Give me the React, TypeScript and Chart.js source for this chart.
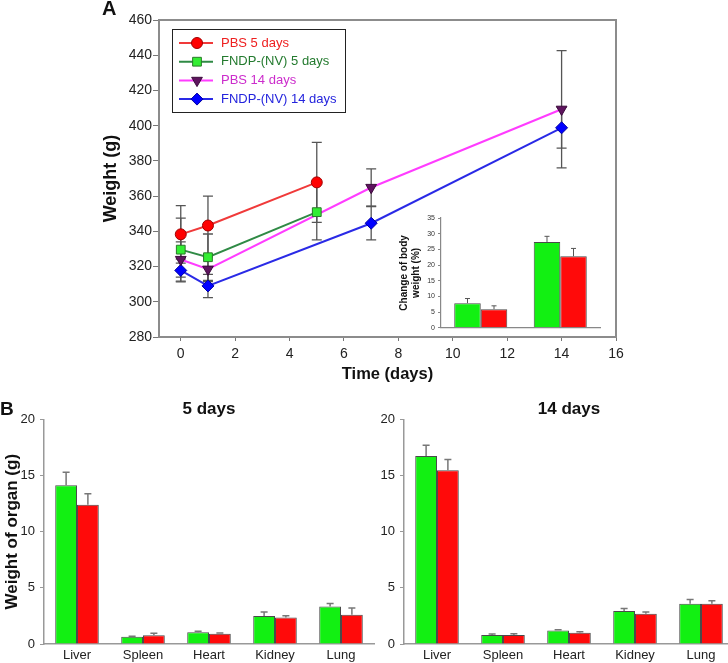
import React, { useEffect, useRef } from 'react';
import { Chart, registerables } from 'chart.js';
import { drawPoint } from 'chart.js/helpers';

Chart.register(...registerables);

const FONT = "'Liberation Sans', Arial, Helvetica, sans-serif";
Chart.defaults.font.family = FONT;
Chart.defaults.color = '#222';

// ---------- Panel A: body weight over time ----------
const xTickValues = [0, 2, 4, 6, 8, 10, 12, 14, 16];
const yTickValues = [280, 300, 320, 340, 360, 380, 400, 420, 440, 460];
const seriesLabels = ['PBS 5 days', 'FNDP-(NV) 5 days', 'PBS 14 days', 'FNDP-(NV) 14 days'];

const days5 = [0, 1, 5];
const pbs5Weight = [338.3, 343.3, 367.8];
const pbs5Err = [16.3, 16.7, 22.7];
const fndp5Weight = [329.6, 325.3, 350.9];
const fndp5Err = [17.9, 13.2, 15.8];

const days14 = [0, 1, 7, 14];
const pbs14Weight = [324.0, 318.5, 364.9, 409.3];
const pbs14Err = [10.0, 7.0, 10.6, 33.3];
const fndp14Weight = [317.8, 309.0, 344.6, 398.8];
const fndp14Err = [6.5, 6.6, 9.5, 11.6];

// ---------- Inset: change of body weight ----------
const insetCategories = ['5 days', '14 days'];
const insetTicks = [0, 5, 10, 15, 20, 25, 30, 35];
const insetFndpChange = [7.85, 27.36];
const insetFndpErr = [1.48, 1.8];
const insetPbsChange = [5.94, 22.8];
const insetPbsErr = [1.06, 2.5];

// ---------- Panel B: organ weights ----------
const organs = ['Liver', 'Spleen', 'Heart', 'Kidney', 'Lung'];
const organTicks = [0, 5, 10, 15, 20];
const organ5Fndp = [14.13, 0.65, 1.04, 2.49, 3.35];
const organ5FndpErr = [1.16, 0.05, 0.09, 0.35, 0.26];
const organ5Pbs = [12.41, 0.77, 0.92, 2.37, 2.61];
const organ5PbsErr = [0.98, 0.18, 0.06, 0.15, 0.59];
const organ14Fndp = [16.74, 0.8, 1.21, 2.93, 3.59];
const organ14FndpErr = [0.95, 0.09, 0.06, 0.24, 0.38];
const organ14Pbs = [15.47, 0.8, 1.0, 2.7, 3.59];
const organ14PbsErr = [0.97, 0.12, 0.1, 0.14, 0.26];

const GREEN = '#12f012';
const RED = '#ff0a0a';
const BAR_BORDER = '#4a4a4a';

// ---------- plugins ----------
function drawErrors(chart: any, opts: any) {
  const { ctx } = chart;
  chart.data.datasets.forEach((ds: any, di: number) => {
    const errs = ds.errors;
    if (!errs) return;
    const meta = chart.getDatasetMeta(di);
    const yScale = chart.scales[meta.yAxisID];
    ctx.save();
    ctx.strokeStyle = opts.color;
    ctx.lineWidth = opts.width;
    meta.data.forEach((el: any, i: number) => {
      const raw = ds.data[i];
      const v = typeof raw === 'number' ? raw : raw.y;
      const e = errs[i];
      const x = el.x;
      const yTop = yScale.getPixelForValue(v + e);
      const yBot = yScale.getPixelForValue(opts.upOnly ? v : v - e);
      ctx.beginPath();
      ctx.moveTo(x, yTop);
      ctx.lineTo(x, yBot);
      ctx.moveTo(x - opts.cap, yTop);
      ctx.lineTo(x + opts.cap, yTop);
      if (!opts.upOnly) {
        ctx.moveTo(x - opts.cap, yBot);
        ctx.lineTo(x + opts.cap, yBot);
      }
      ctx.stroke();
    });
    ctx.restore();
  });
}

const errorBarPlugin = {
  id: 'errorBars',
  beforeDatasetsDraw(chart: any, _a: any, opts: any) {
    if (!opts.after) drawErrors(chart, opts);
  },
  afterDatasetsDraw(chart: any, _a: any, opts: any) {
    if (opts.after) drawErrors(chart, opts);
  },
};

const framePlugin = {
  id: 'frame',
  beforeDatasetsDraw(chart: any, _a: any, opts: any) {
    const { ctx, chartArea } = chart;
    ctx.save();
    ctx.strokeStyle = opts.color;
    ctx.lineWidth = opts.width;
    ctx.strokeRect(chartArea.left, chartArea.top, chartArea.right - chartArea.left, chartArea.bottom - chartArea.top);
    ctx.restore();
  },
};

const boxLegendPlugin = {
  id: 'boxLegend',
  afterDraw(chart: any, _a: any, opts: any) {
    const { ctx, chartArea } = chart;
    const x0 = chartArea.left + opts.offsetX;
    const y0 = chartArea.top + opts.offsetY;
    ctx.save();
    ctx.fillStyle = '#fff';
    ctx.fillRect(x0, y0, opts.width, opts.height);
    ctx.strokeStyle = '#222';
    ctx.lineWidth = 1;
    ctx.strokeRect(x0 + 0.5, y0 + 0.5, opts.width, opts.height);
    chart.data.datasets.forEach((ds: any, i: number) => {
      const cy = y0 + opts.firstRow + i * opts.rowGap;
      ctx.strokeStyle = ds.borderColor;
      ctx.lineWidth = ds.borderWidth;
      ctx.beginPath();
      ctx.moveTo(x0 + opts.lineStart, cy);
      ctx.lineTo(x0 + opts.lineEnd, cy);
      ctx.stroke();
      ctx.fillStyle = ds.pointBackgroundColor;
      ctx.strokeStyle = ds.pointBorderColor;
      ctx.lineWidth = ds.pointBorderWidth;
      drawPoint(ctx, {
        pointStyle: ds.pointStyle,
        rotation: ds.pointRotation || 0,
        radius: ds.pointRadius,
        borderWidth: ds.pointBorderWidth,
      } as any, x0 + opts.markerX, cy);
      ctx.fillStyle = opts.textColors[i];
      ctx.font = `${opts.fontSize}px ${FONT}`;
      ctx.textBaseline = 'middle';
      ctx.textAlign = 'left';
      ctx.fillText(ds.label, x0 + opts.textX, cy);
    });
    ctx.restore();
  },
};

function lineDs(label: string, xs: number[], ys: number[], errs: number[], color: string,
  fill: string, border: string, style: string, radius: number, rotation = 0) {
  return {
    label,
    data: xs.map((x, i) => ({ x, y: ys[i] })),
    errors: errs,
    borderColor: color,
    borderWidth: 2,
    pointStyle: style,
    pointRadius: radius,
    pointRotation: rotation,
    pointBackgroundColor: fill,
    pointBorderColor: border,
    pointBorderWidth: 1,
    tension: 0,
    fill: false,
  };
}

const panelAConfig: any = {
  type: 'line',
  data: {
    datasets: [
      lineDs(seriesLabels[0], days5, pbs5Weight, pbs5Err, '#f03a3a', '#ff0000', '#a00000', 'circle', 5.5),
      lineDs(seriesLabels[1], days5, fndp5Weight, fndp5Err, '#2f8a45', '#33ee33', '#2a7a2a', 'rect', 6.2),
      lineDs(seriesLabels[2], days14, pbs14Weight, pbs14Err, '#ff3cff', '#5e145e', '#3c0a3c', 'triangle', 6.2, 180),
      lineDs(seriesLabels[3], days14, fndp14Weight, fndp14Err, '#2a2ae6', '#0000ff', '#0000a0', 'rectRot', 6),
    ],
  },
  options: {
    responsive: false,
    animation: false,
    devicePixelRatio: 1,
    layout: { padding: { left: 0, top: 20, right: 34, bottom: 0 } },
    plugins: {
      legend: { display: false },
      tooltip: { enabled: false },
      frame: { color: '#8c8c8c', width: 2 },
      errorBars: { color: '#555', width: 1.3, cap: 5, upOnly: false, after: false },
      boxLegend: {
        offsetX: 13, offsetY: 9, width: 173, height: 83,
        lineStart: 7, lineEnd: 41, markerX: 25, textX: 49,
        firstRow: 14, rowGap: 18.7, fontSize: 13,
        textColors: ['#ee2020', '#237a2e', '#cc2ccc', '#2424dd'],
      },
    },
    scales: {
      x: {
        type: 'linear', min: -0.8, max: 16,
        afterBuildTicks: (s: any) => { s.ticks = xTickValues.map((v) => ({ value: v })); },
        afterFit: (s: any) => { s.height = 55; },
        grid: { drawOnChartArea: false, drawTicks: true, tickLength: 4, color: '#777' },
        border: { display: true, color: '#8c8c8c', width: 2 },
        ticks: { font: { size: 14 }, color: '#222', padding: 5, maxRotation: 0 },
        title: { display: true, text: 'Time (days)', font: { size: 16.5, weight: 'bold' }, color: '#111', padding: { top: 0, bottom: 8 } },
      },
      y: {
        type: 'linear', min: 280, max: 460,
        afterBuildTicks: (s: any) => { s.ticks = yTickValues.map((v) => ({ value: v })); },
        afterFit: (s: any) => { s.width = 69; },
        grid: { drawOnChartArea: false, drawTicks: true, tickLength: 6, color: '#777' },
        border: { display: true, color: '#8c8c8c', width: 2 },
        ticks: { font: { size: 14 }, color: '#222', padding: 1 },
        title: { display: true, text: 'Weight (g)', font: { size: 18, weight: 'bold' }, color: '#111', padding: { top: 10, bottom: 0 } },
      },
    },
  },
  plugins: [framePlugin, errorBarPlugin, boxLegendPlugin],
};

function barDs(label: string, values: number[], errs: number[], color: string) {
  return { label, data: values, errors: errs, backgroundColor: color, borderColor: BAR_BORDER, borderWidth: 1 };
}

const insetConfig: any = {
  type: 'bar',
  data: {
    labels: insetCategories,
    datasets: [
      barDs('FNDP-(NV)', insetFndpChange, insetFndpErr, GREEN),
      barDs('PBS', insetPbsChange, insetPbsErr, RED),
    ],
  },
  options: {
    responsive: false,
    animation: false,
    devicePixelRatio: 1,
    layout: { padding: { left: 0, top: 13, right: 10, bottom: 0 } },
    datasets: { bar: { categoryPercentage: 0.667, barPercentage: 1 } },
    plugins: {
      legend: { display: false },
      tooltip: { enabled: false },
      errorBars: { color: '#555', width: 1, cap: 2.5, upOnly: true, after: true },
    },
    scales: {
      x: {
        ticks: { display: false },
        grid: { display: false },
        border: { display: true, color: '#888', width: 1.2 },
        afterFit: (s: any) => { s.height = 7; },
      },
      y: {
        min: 0, max: 35,
        afterBuildTicks: (s: any) => { s.ticks = insetTicks.map((v) => ({ value: v })); },
        afterFit: (s: any) => { s.width = 51; },
        grid: { drawOnChartArea: false, drawTicks: true, tickLength: 3, color: '#888' },
        border: { display: true, color: '#888', width: 1.2 },
        ticks: { font: { size: 7 }, color: '#333', padding: 3 },
        title: { display: true, text: ['Change of body', 'weight (%)'], font: { size: 10, weight: 'bold' }, color: '#111', padding: { top: 8, bottom: 0 } },
      },
    },
  },
  plugins: [errorBarPlugin],
};

function organConfig(title: string, fndp: number[], fndpErr: number[], pbs: number[], pbsErr: number[], yTitle: string | null): any {
  return {
    type: 'bar',
    data: {
      labels: organs,
      datasets: [
        barDs('FNDP-(NV)', fndp, fndpErr, GREEN),
        barDs('PBS', pbs, pbsErr, RED),
      ],
    },
    options: {
      responsive: false,
      animation: false,
      devicePixelRatio: 1,
      layout: { padding: { left: 0, top: 0, right: 6, bottom: 0 } },
      datasets: { bar: { categoryPercentage: 0.66, barPercentage: 1 } },
      plugins: {
        legend: { display: false },
        tooltip: { enabled: false },
        title: { display: true, text: title, fullSize: false, font: { size: 17, weight: 'bold' }, color: '#111', padding: { top: 19, bottom: 0 } },
        errorBars: { color: '#777', width: 1.5, cap: 3.5, upOnly: true, after: true },
      },
      scales: {
        x: {
          grid: { display: false, drawTicks: false, tickLength: 0 },
          border: { display: true, color: '#999', width: 1.5 },
          ticks: { font: { size: 13 }, color: '#222', padding: 4, maxRotation: 0 },
          afterFit: (s: any) => { s.height = 19; },
        },
        y: {
          min: 0, max: 20,
          afterBuildTicks: (s: any) => { s.ticks = organTicks.map((v) => ({ value: v })); },
          afterFit: (s: any) => { s.width = 44; },
          grid: { drawOnChartArea: false, drawTicks: true, tickLength: 4, color: '#999' },
          border: { display: true, color: '#999', width: 1.5 },
          ticks: { font: { size: 13 }, color: '#222', padding: 5 },
          title: { display: !!yTitle, text: yTitle || '', font: { size: 17, weight: 'bold' }, color: '#111', padding: { top: 2, bottom: 0 } },
        },
      },
    },
    plugins: [errorBarPlugin],
  };
}

function ChartCanvas({ config, left, top, width, height }: { config: any; left: number; top: number; width: number; height: number }) {
  const ref = useRef<HTMLCanvasElement>(null);
  useEffect(() => {
    const chart = new Chart(ref.current as HTMLCanvasElement, config);
    return () => chart.destroy();
  }, [config]);
  return (
    <canvas
      ref={ref}
      width={width}
      height={height}
      style={{ position: 'absolute', left, top, width, height }}
    />
  );
}

const organ5Config = organConfig('5 days', organ5Fndp, organ5FndpErr, organ5Pbs, organ5PbsErr, 'Weight of organ (g)');
const organ14Config = organConfig('14 days', organ14Fndp, organ14FndpErr, organ14Pbs, organ14PbsErr, null);

export default function App() {
  const labelStyle: React.CSSProperties = {
    position: 'absolute', fontFamily: FONT, fontWeight: 'bold', fontSize: 20, lineHeight: '23px', color: '#111',
  };
  return (
    <div style={{ position: 'absolute', left: 0, top: 0, width: 728, height: 663, overflow: 'hidden', background: '#fff' }}>
      <ChartCanvas config={panelAConfig} left={90} top={0} width={560} height={392} />
      <ChartCanvas config={insetConfig} left={390} top={205} width={220} height={130} />
      <ChartCanvas config={organ5Config} left={0} top={380} width={380} height={283} />
      <ChartCanvas config={organ14Config} left={360} top={380} width={380} height={283} />
      <div style={{ ...labelStyle, left: 102, top: -3 }}>A</div>
      <div style={{ ...labelStyle, left: 0, top: 397, fontSize: 19 }}>B</div>
    </div>
  );
}
